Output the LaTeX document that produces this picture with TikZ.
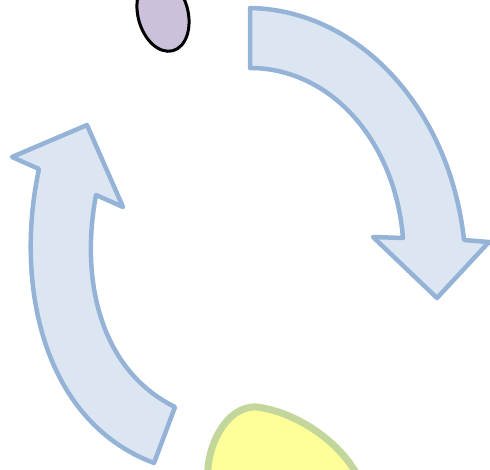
\documentclass[tikz,border=0pt]{standalone}
\begin{document}
\begin{tikzpicture}[x=1pt,y=-1pt,line join=round,
  arrowshape/.style={draw={rgb,255:red,149;green,179;blue,215},fill={rgb,255:red,220;green,230;blue,242},line width=4.5pt},
  eggshape/.style={draw=black,fill={rgb,255:red,204;green,193;blue,218},line width=3pt},
  blobshape/.style={draw={rgb,255:red,195;green,214;blue,155},fill={rgb,255:red,255;green,255;blue,153},line width=7pt}]
\useasboundingbox (0,0) rectangle (490,469);
\clip (0,0) rectangle (490,469);
% purple ellipse
\draw[eggshape,rotate around={15:(163,14)}] (163,14) ellipse [x radius=25, y radius=38];
% right arrow
\draw[arrowshape] (250,8) .. controls (360,10) and (450,110) .. (464,240)
  -- (489,242) -- (437,298) -- (373,237) -- (403,238)
  .. controls (395,140) and (330,68) .. (250,68) -- cycle;
% left arrow
\draw[arrowshape] (154,463) .. controls (40,420) and (15,280) .. (39,169)
  -- (12,157) -- (87,125) -- (123,207) -- (96,195)
  .. controls (80,280) and (100,370) .. (175,407) -- cycle;
% yellow blob
\draw[blobshape] (208,480) .. controls (205,450) and (225,405) .. (257,407)
  .. controls (295,412) and (340,440) .. (360,480) -- cycle;
\end{tikzpicture}
\end{document}
